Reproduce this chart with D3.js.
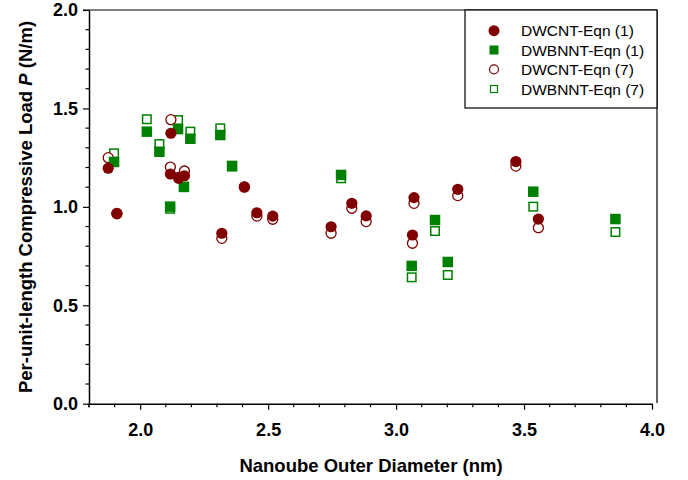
<!DOCTYPE html>
<html>
<head>
<meta charset="utf-8">
<script src="https://cdn.jsdelivr.net/npm/d3@7"></script>
<style>
  body { margin: 0; background: #fff; }
  svg text { font-family: Arial, "Liberation Sans", sans-serif; }
</style>
</head>
<body>
<div id="chart"></div>
<script>
// tube diameters (nm) and loads (N/m)
const cntDiam = [1.875, 1.909, 2.118, 2.120, 2.150, 2.173, 2.319, 2.407, 2.456, 2.518, 2.746, 2.827, 2.883, 3.064, 3.070, 3.241, 3.468, 3.556];
const cntEqn1 = [1.196, 0.967, 1.167, 1.374, 1.145, 1.158, 0.866, 1.102, 0.970, 0.953, 0.899, 1.018, 0.954, 0.857, 1.047, 1.089, 1.230, 0.938];
const cntEqn7 = [1.250, 0.965, 1.202, 1.443, 1.150, 1.182, 0.840, 1.100, 0.953, 0.937, 0.866, 0.993, 0.925, 0.815, 1.018, 1.057, 1.207, 0.894];

const bnntDiam = [1.898, 2.026, 2.075, 2.117, 2.148, 2.171, 2.196, 2.313, 2.359, 2.785, 3.061, 3.152, 3.202, 3.536, 3.857];
const bnntEqn1 = [1.228, 1.382, 1.280, 1.001, 1.395, 1.102, 1.346, 1.365, 1.208, 1.162, 0.700, 0.933, 0.720, 1.077, 0.938];
const bnntEqn7 = [1.272, 1.445, 1.319, 0.990, 1.441, 1.100, 1.382, 1.399, 1.205, 1.145, 0.642, 0.877, 0.654, 1.001, 0.872];

const xMajor = [2.0, 2.5, 3.0, 3.5, 4.0];
const yMajor = [0.0, 0.5, 1.0, 1.5, 2.0];

const legendNames = ['DWCNT-Eqn (1)', 'DWBNNT-Eqn (1)', 'DWCNT-Eqn (7)', 'DWBNNT-Eqn (7)'];

const RED = '#800000';
const GREEN = '#008000';

const width = 688, height = 480;
const svg = d3.select('#chart').append('svg')
    .attr('width', width)
    .attr('height', height);

const x = d3.scaleLinear().domain([1.8, 4.0]).range([89, 652]);
const y = d3.scaleLinear().domain([0, 2]).range([403.7, 10]);

// minor ticks every 0.1
const xMinor = d3.range(18, 41).map(d => d / 10).filter(v => !xMajor.some(m => Math.abs(m - v) < 1e-6));
const yMinor = d3.range(0, 21).map(d => d / 10).filter(v => !yMajor.some(m => Math.abs(m - v) < 1e-6));

// frame (top + right)
svg.append('line').attr('x1', 83).attr('x2', 657).attr('y1', 10).attr('y2', 10)
    .attr('stroke', '#000').attr('stroke-width', 1.2);
svg.append('line').attr('x1', 657).attr('x2', 657).attr('y1', 10).attr('y2', 403)
    .attr('stroke', '#000').attr('stroke-width', 1.2);

function styleAxis(g) {
    g.select('.domain').attr('stroke', '#000').attr('stroke-width', 1.5);
    g.selectAll('.tick line').attr('stroke', '#000').attr('stroke-width', 1.2);
    g.selectAll('text')
        .attr('fill', '#000')
        .style('font-size', '18px')
        .style('font-weight', 'bold');
}

// x axis
const xAxisG = svg.append('g').attr('transform', `translate(0,${y(0)})`);
xAxisG.call(d3.axisBottom(x).tickValues(xMajor).tickFormat(d3.format('.1f')).tickSizeInner(6).tickSizeOuter(0).tickPadding(14));
styleAxis(xAxisG);
svg.append('g').attr('transform', `translate(0,${y(0)})`)
    .selectAll('line').data([1.8, ...xMinor]).join('line')
    .attr('x1', d => x(d)).attr('x2', d => x(d))
    .attr('y1', 0).attr('y2', 3.5)
    .attr('stroke', '#000').attr('stroke-width', 1.2);

// y axis
const yAxisG = svg.append('g').attr('transform', `translate(${x(1.8)},0)`);
yAxisG.call(d3.axisLeft(y).tickValues(yMajor).tickFormat(d3.format('.1f')).tickSizeInner(6).tickSizeOuter(0).tickPadding(5));
styleAxis(yAxisG);
svg.append('g').attr('transform', `translate(${x(1.8)},0)`)
    .selectAll('line').data(yMinor).join('line')
    .attr('x1', -3.5).attr('x2', 0)
    .attr('y1', d => y(d)).attr('y2', d => y(d))
    .attr('stroke', '#000').attr('stroke-width', 1.2);

// axis titles
svg.append('text')
    .attr('x', 371).attr('y', 472)
    .attr('text-anchor', 'middle')
    .style('font-size', '18.5px').style('font-weight', 'bold')
    .text('Nanoube Outer Diameter (nm)');

const yTitle = svg.append('text')
    .attr('transform', 'translate(32,207) rotate(-90)')
    .attr('text-anchor', 'middle')
    .style('font-size', '18.5px').style('font-weight', 'bold');
yTitle.append('tspan').text('Per-unit-length Compressive Load ');
yTitle.append('tspan').style('font-style', 'italic').text('P');
yTitle.append('tspan').text(' (N/m)');

// markers
const sq = 10.5, sqOpen = 8.5, rad = 5.6;
const pts = (xs, ys) => xs.map((d, i) => ({ x: d, y: ys[i] }));

// open markers drawn first, filled ones on top
svg.append('g').selectAll('rect').data(pts(bnntDiam, bnntEqn7)).join('rect')
    .attr('x', d => x(d.x) - sqOpen / 2).attr('y', d => y(d.y) - sqOpen / 2)
    .attr('width', sqOpen).attr('height', sqOpen)
    .attr('fill', '#fff').attr('stroke', GREEN).attr('stroke-width', 1.5);

svg.append('g').selectAll('circle').data(pts(cntDiam, cntEqn7)).join('circle')
    .attr('cx', d => x(d.x)).attr('cy', d => y(d.y)).attr('r', rad - 0.6)
    .attr('fill', '#fff').attr('stroke', RED).attr('stroke-width', 1.3);

svg.append('g').selectAll('rect').data(pts(bnntDiam, bnntEqn1)).join('rect')
    .attr('x', d => x(d.x) - sq / 2).attr('y', d => y(d.y) - sq / 2)
    .attr('width', sq).attr('height', sq)
    .attr('fill', GREEN);

svg.append('g').selectAll('circle').data(pts(cntDiam, cntEqn1)).join('circle')
    .attr('cx', d => x(d.x)).attr('cy', d => y(d.y)).attr('r', rad)
    .attr('fill', RED);

// legend
const lg = svg.append('g');
lg.append('rect')
    .attr('x', 465).attr('y', 10).attr('width', 192).attr('height', 98)
    .attr('fill', '#fff').attr('stroke', '#000').attr('stroke-width', 1.2);

const rowY = [30.7, 50, 69.3, 89];
const mx = 494;
lg.append('circle').attr('cx', mx).attr('cy', rowY[0]).attr('r', 5.5).attr('fill', RED);
lg.append('rect').attr('x', mx - 4.5).attr('y', rowY[1] - 4.5).attr('width', 9).attr('height', 9).attr('fill', GREEN);
lg.append('circle').attr('cx', mx).attr('cy', rowY[2]).attr('r', 4.5)
    .attr('fill', '#fff').attr('stroke', RED).attr('stroke-width', 1.2);
lg.append('rect').attr('x', mx - 3.5).attr('y', rowY[3] - 3.5).attr('width', 7).attr('height', 7)
    .attr('fill', '#fff').attr('stroke', GREEN).attr('stroke-width', 1.2);

lg.selectAll('text.lbl').data(legendNames).join('text')
    .attr('class', 'lbl')
    .attr('x', 521).attr('y', (d, i) => rowY[i])
    .attr('dy', '0.36em')
    .style('font-size', '15.5px')
    .text(d => d);
</script>
</body>
</html>
